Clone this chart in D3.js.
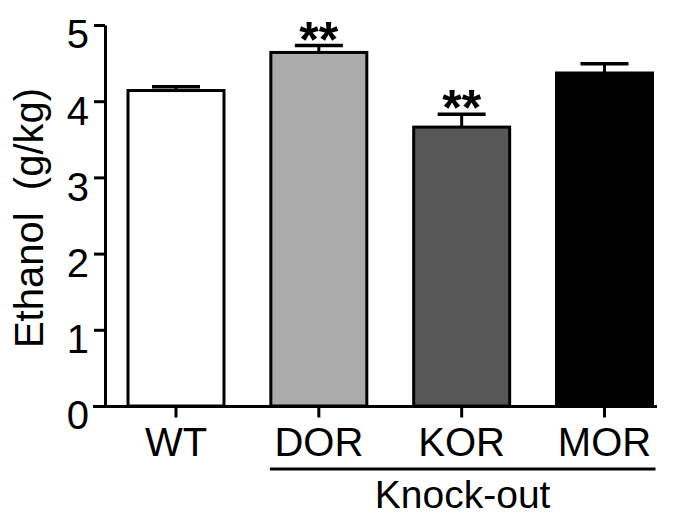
<!DOCTYPE html>
<html>
<head>
<script src="https://d3js.org/d3.v7.min.js"></script>
<style>
  body { margin: 0; background: #fff; }
  text { font-family: "Liberation Sans", Arial, sans-serif; fill: #000; }
</style>
</head>
<body>
<div id="chart"></div>
<script>
// data
const groupes = ['WT', 'DOR', 'KOR', 'MOR'];
const moyennes = [4.14, 4.64, 3.66, 4.37];
const erreurs = [0.05, 0.09, 0.17, 0.12];
const etoiles = ['', '**', '**', ''];
const couleurs = ['#ffffff', '#aaaaaa', '#575757', '#000000'];
const ticksY = [0, 1, 2, 3, 4, 5];

const largeur = 673, hauteur = 517;
const svg = d3.select('#chart').append('svg')
    .attr('width', largeur)
    .attr('height', hauteur);

const y = d3.scaleLinear().domain([0, 5]).range([406, 25]);
const x = d3.scaleBand().domain(groupes)
    .range([128, 652.5])
    .paddingInner(0.328)
    .paddingOuter(0);

// axe Y
const axeY = svg.append('g')
    .attr('transform', 'translate(105,0)')
    .call(d3.axisLeft(y).tickValues(ticksY).tickFormat(d3.format('d'))
        .tickSize(11).tickSizeOuter(0).tickPadding(5));
axeY.select('.domain').attr('stroke-width', 3);
axeY.selectAll('.tick line').attr('stroke-width', 3);
axeY.selectAll('.tick text')
    .attr('font-size', 40)
    .attr('dy', '0.57em');

// barres
const barres = svg.append('g');
barres.selectAll('rect')
    .data(groupes)
    .join('rect')
    .attr('x', d => x(d))
    .attr('y', (d, i) => y(moyennes[i]))
    .attr('width', x.bandwidth())
    .attr('height', (d, i) => y(0) - y(moyennes[i]))
    .attr('fill', (d, i) => couleurs[i])
    .attr('stroke', '#000')
    .attr('stroke-width', 3);

// barres d'erreur
const centre = d => x(d) + x.bandwidth() / 2;
barres.selectAll('.err')
    .data(groupes)
    .join('line')
    .attr('class', 'err')
    .attr('x1', centre).attr('x2', centre)
    .attr('y1', (d, i) => y(moyennes[i]))
    .attr('y2', (d, i) => y(moyennes[i] + erreurs[i]))
    .attr('stroke', '#000').attr('stroke-width', 3);
barres.selectAll('.cap')
    .data(groupes)
    .join('line')
    .attr('class', 'cap')
    .attr('x1', d => centre(d) - x.bandwidth() / 4)
    .attr('x2', d => centre(d) + x.bandwidth() / 4)
    .attr('y1', (d, i) => y(moyennes[i] + erreurs[i]))
    .attr('y2', (d, i) => y(moyennes[i] + erreurs[i]))
    .attr('stroke', '#000').attr('stroke-width', 3.5);

// étoiles
barres.selectAll('.etoile')
    .data(groupes)
    .join('text')
    .attr('class', 'etoile')
    .attr('x', centre)
    .attr('y', (d, i) => y(moyennes[i] + erreurs[i]) + 11)
    .attr('text-anchor', 'middle')
    .attr('font-size', 50)
    .attr('font-weight', 'bold')
    .text((d, i) => etoiles[i]);

// axe X
const axeX = svg.append('g')
    .attr('transform', 'translate(0,406.5)')
    .call(d3.axisBottom(x).tickSize(11).tickSizeOuter(0).tickPadding(10));
axeX.select('.domain').remove();
axeX.selectAll('.tick line').attr('stroke-width', 3);
axeX.selectAll('.tick text').attr('font-size', 40);
axeX.append('line')
    .attr('x1', 93).attr('x2', 657)
    .attr('stroke', '#000').attr('stroke-width', 3);

// Knock-out
const debutKO = x('DOR') - 1, finKO = x('MOR') + x.bandwidth() + 3;
svg.append('line')
    .attr('x1', debutKO).attr('x2', finKO)
    .attr('y1', 469).attr('y2', 469)
    .attr('stroke', '#000').attr('stroke-width', 3);
svg.append('text')
    .attr('x', (debutKO + finKO) / 2)
    .attr('y', 508)
    .attr('text-anchor', 'middle')
    .attr('font-size', 39)
    .text('Knock-out');

// titre Y
svg.append('text')
    .attr('transform', 'translate(43,218) rotate(-90)')
    .attr('text-anchor', 'middle')
    .attr('font-size', 40)
    .style('white-space', 'pre')
    .text('Ethanol  (g/kg)');
</script>
</body>
</html>
